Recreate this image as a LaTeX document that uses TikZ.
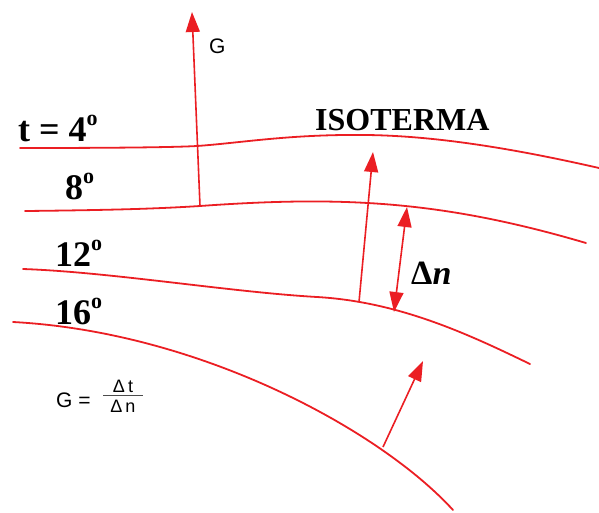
\documentclass[tikz,border=0pt]{standalone}
\usepackage{fontspec}
\setmainfont{Liberation Serif}
\setsansfont{Liberation Sans}
\usetikzlibrary{arrows.meta}
\definecolor{isored}{RGB}{235,30,35}
\tikzset{
  iso/.style={draw=isored, line width=1.8pt, line cap=round},
  vec/.style={draw=isored, line width=1.6pt, -{Triangle[length=20pt,width=14pt]}},
  dvec/.style={draw=isored, line width=1.6pt, {Triangle[length=20pt,width=14pt]}-{Triangle[length=20pt,width=14pt]}},
  big/.style={font=\fontsize{36}{40}\selectfont\bfseries, inner sep=0pt, anchor=base west},
  mid/.style={font=\fontsize{32}{36}\selectfont\bfseries, inner sep=0pt, anchor=base west},
  small/.style={font=\fontsize{21}{24}\selectfont\sffamily, inner sep=0pt, anchor=base west},
  frac/.style={font=\fontsize{18}{20}\selectfont\sffamily, inner sep=0pt, anchor=base}
}
\newcommand{\dg}{\raisebox{0.42em}{\fontsize{22}{24}\selectfont o}}
\begin{document}
\begin{tikzpicture}[x=1pt,y=-1pt]
\useasboundingbox (0,0) rectangle (599,512);
% isotherms
\draw[iso] (20,148) .. controls (100,148) and (170,147.5) .. (197,146)
  .. controls (240,143) and (290,134) .. (367,135)
  .. controls (440,136) and (520,150) .. (599,168);
\draw[iso] (25,211) .. controls (120,210) and (160,208.5) .. (200,206)
  .. controls (340,196) and (440,200) .. (586,243);
\draw[iso] (23,269) .. controls (110,272) and (230,292) .. (317,297)
  .. controls (400,301.8) and (470,335) .. (530,364);
\draw[iso] (13,322) .. controls (200,332) and (380,430) .. (453,510);
% arrow endpoints
\coordinate (g0) at (200,206);
\coordinate (g1) at (192,12);
\coordinate (a0) at (359,302);
\coordinate (a1) at (373,152);
\coordinate (n0) at (407,207);
\coordinate (n1) at (394,312);
\coordinate (b0) at (383,447);
\coordinate (b1) at (423,361);
\draw[vec] (g0) -- (g1);
\draw[vec] (a0) -- (a1);
\draw[dvec] (n1) -- (n0);
\draw[vec] (b0) -- (b1);
% labels
\node[small] (lg) at (209,53) {G};
\node[big] (l4) at (18,141) {t = 4\dg};
\node[big] (l8) at (65,199) {8\dg};
\node[big] (l12) at (55,266) {12\dg};
\node[big] (l16) at (55,324) {16\dg};
\node[mid] (liso) at (315,130) {ISOTERMA};
\node[mid, font=\fontsize{34}{38}\selectfont\bfseries] (ldn) at (411,284) {Δ\textit{n}};
\node[small] (lf) at (56,407) {G =};
\node[frac] (ft) at (123,392) {Δ\,t};
\node[frac] (fn) at (123,412) {Δ\,n};
\draw[black!70, line width=0.8pt] (103,395.5) -- (143,395.5);
\end{tikzpicture}
\end{document}
